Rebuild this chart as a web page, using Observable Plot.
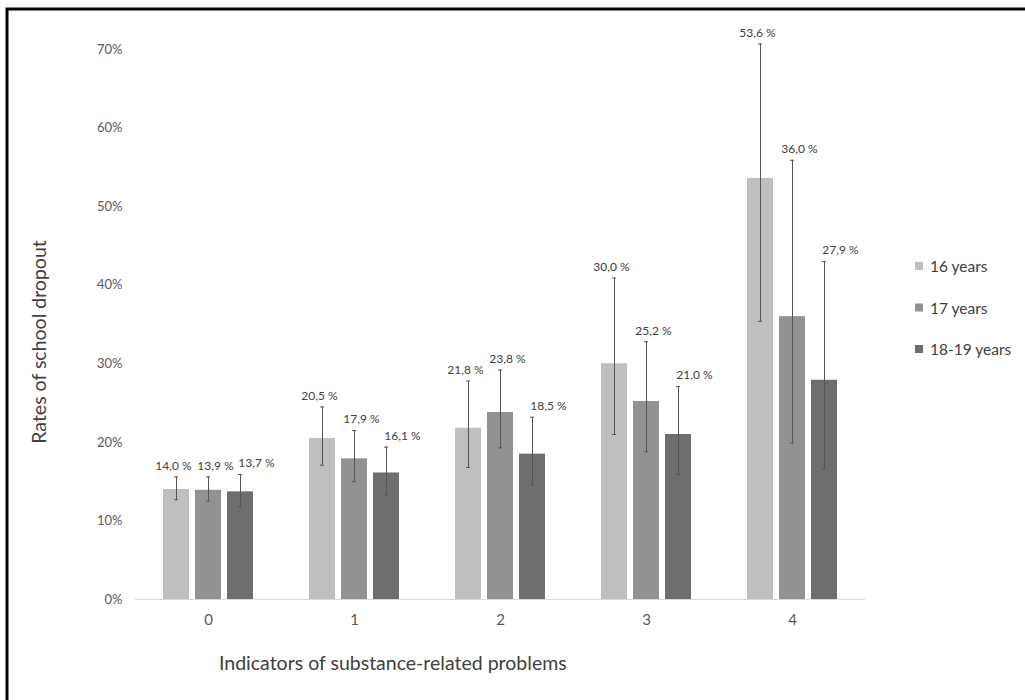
<!DOCTYPE html>
<html><head><meta charset="utf-8">
<script src="https://cdn.jsdelivr.net/npm/d3@7"></script>
<script src="https://cdn.jsdelivr.net/npm/@observablehq/plot@0.6"></script>
<style>
body{margin:0;background:#fff;}
#chart{position:relative;width:1025px;height:700px;overflow:hidden;}
g[aria-label="fx-axis tick label"] text, g[aria-label="fx-axis"] text {font-size:15px;}
</style></head><body><div id="chart"></div>
<script>
const groups = ["0", "1", "2", "3", "4"];
const seriesNames = ["16 years", "17 years", "18-19 years"];
const values16 = [14.0, 20.5, 21.8, 30.0, 53.6];
const low16    = [12.7, 17.1, 16.8, 21.0, 35.4];
const high16   = [15.6, 24.5, 27.8, 40.9, 70.7];
const values17 = [13.9, 17.9, 23.8, 25.2, 36.0];
const low17    = [12.5, 15.0, 19.3, 18.8, 19.9];
const high17   = [15.6, 21.5, 29.2, 32.8, 55.9];
const values1819 = [13.7, 16.1, 18.5, 21.0, 27.9];
const low1819    = [11.8, 13.3, 14.6, 15.9, 16.6];
const high1819   = [15.9, 19.4, 23.2, 27.1, 43.0];
const yTicks = [0, 10, 20, 30, 40, 50, 60, 70];
const colors = ["#bfbfbf", "#929292", "#6e6e6e"];
const xTitle = "Indicators of substance-related problems";
const yTitle = "Rates of school dropout";

const vals = [values16, values17, values1819];
const lows = [low16, low17, low1819];
const highs = [high16, high17, high1819];
const rows = [];
groups.forEach((g, gi) => seriesNames.forEach((s, si) => rows.push({
  group: g, series: s, value: vals[si][gi], low: lows[si][gi], high: highs[si][gi]
})));

const fmt = v => v.toFixed(1).replace(".", ",") + " %";
const labelDx = {"16 years": -3, "17 years": 7, "18-19 years": 16};

const plot = Plot.plot({
  width: 1025, height: 700,
  marginLeft: 135, marginRight: 160, marginTop: 49, marginBottom: 101,
  style: {fontFamily: "Lato, sans-serif", fontSize: "13px", color: "#595959", background: "transparent"},
  fx: {domain: groups, padding: 0, label: null, tickSize: 0, tickPadding: 15, axis: "bottom"},
  x: {domain: seriesNames, axis: null, paddingInner: 0.2, paddingOuter: 0.846},
  y: {domain: [0, 70], ticks: yTicks, tickSize: 0, tickPadding: 13, tickFormat: d => d + "%", label: null},
  color: {domain: seriesNames, range: colors},
  marks: [
    Plot.ruleY([0], {stroke: "#d9d9d9", strokeWidth: 1}),
    Plot.barY(rows, {fx: "group", x: "series", y: "value", fill: "series"}),
    Plot.ruleX(rows, {fx: "group", x: "series", y1: "low", y2: "high", stroke: "#555", strokeWidth: 1}),
    Plot.tickY(rows, {fx: "group", x: "series", y: "high", stroke: "#555", inset: 11}),
    Plot.tickY(rows, {fx: "group", x: "series", y: "low", stroke: "#555", inset: 11}),
    ...seriesNames.map(s => Plot.text(rows.filter(d => d.series === s), {
      fx: "group", x: "series", y: "high", text: d => fmt(d.value),
      dy: -11, dx: labelDx[s], fontSize: 12, fill: "#404040"
    }))
  ]
});
document.getElementById("chart").appendChild(plot);

const svg = d3.select(plot);
const color = plot.scale("color");
svg.append("path").attr("d", "M7,700V9H1025").attr("fill", "none").attr("stroke", "#000").attr("stroke-width", 3);
svg.append("text").attr("transform", "translate(38,342) rotate(-90)")
  .attr("text-anchor", "middle").attr("dominant-baseline", "central")
  .attr("font-family", "Lato, sans-serif").attr("font-size", 19.5).attr("fill", "#404040").text(yTitle);
svg.append("text").attr("x", 219).attr("y", 662).attr("text-anchor", "start").attr("dominant-baseline", "central")
  .attr("font-family", "Lato, sans-serif").attr("font-size", 19.5).attr("fill", "#404040").text(xTitle);
const leg = svg.append("g");
seriesNames.forEach((s, i) => {
  const cy = 266 + i * 41.5;
  leg.append("rect").attr("x", 915).attr("y", cy - 4).attr("width", 8).attr("height", 8).attr("fill", color.apply(s));
  leg.append("text").attr("x", 930).attr("y", cy).attr("text-anchor", "start").attr("dominant-baseline", "central")
    .attr("font-family", "Lato, sans-serif").attr("font-size", 15.5).attr("fill", "#404040").text(s);
});
</script></body></html>
